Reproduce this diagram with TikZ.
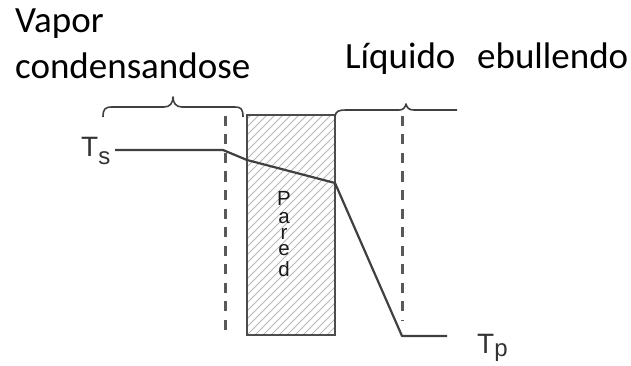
\documentclass[tikz,border=0pt]{standalone}
\usepackage{fontspec}
\setmainfont{Carlito}
\newfontfamily\arialf{Liberation Sans}
\begin{document}
\begin{tikzpicture}[x=1pt,y=-1pt,
  lbl/.style={anchor=base west,inner sep=0pt,font=\fontsize{37}{44}\selectfont,text=black},
  tlbl/.style={anchor=base west,inner sep=0pt,text=black!80},
  parl/.style={anchor=base,inner sep=0pt,font=\arialf\fontsize{20.5}{22}\selectfont,text=black!90},
  prof/.style={draw=black!75,line width=2.2pt,line join=round},
  wall/.style={draw=black!70,line width=2pt},
  hatchline/.style={draw=black!28,line width=0.8pt},
  dashline/.style={draw=black!65,line width=3pt,dash pattern=on 10pt off 8.5pt},
  bracepath/.style={draw=black!75,line width=1.6pt,line join=round}]
\useasboundingbox (0,0) rectangle (631,366);

% labels
\node[lbl] (vapor) at (15,33) {Vapor};
\node[lbl] (cond) at (15,79) {condensandose};
\node[lbl] (liq) at (345,69) {Líquido};
\node[lbl] (ebu) at (477,69) {ebullendo};

% wall hatching
\begin{scope}
  \clip (247,115) rectangle (335,335);
  \foreach \i in {-232,-224,...,96}
    \draw[hatchline] (247+\i,335) -- ++(240,-240);
\end{scope}
\draw[wall] (247,115) rectangle (335,335);

% Pared letters
\foreach \ch/\yy [count=\k] in {P/205,a/223,r/239,e/255,d/276}
  \node[parl] (pared\k) at (284,\yy) {\ch};

% dashed boundaries
\coordinate (dl1) at (225,116);
\coordinate (dl2) at (225,334);
\coordinate (dr1) at (402,116);
\coordinate (dr2) at (402,320);
\draw[dashline] (dl1) -- (dl2);
\draw[dashline] (dr1) -- (dr2);

% braces
\draw[bracepath] (103,117) .. controls (103,109) and (105,107) .. (112,107)
  -- (164,107) .. controls (170,107) and (173,103) .. (173,97)
  .. controls (173,103) and (176,107) .. (182,107)
  -- (235,107) .. controls (241,107) and (243,109) .. (243,117);
\draw[bracepath] (335,116) .. controls (336,111) and (339,110) .. (346,110)
  -- (399,110) .. controls (403,110) and (405,108) .. (406,104)
  .. controls (407,108) and (409,110) .. (414,110) -- (457,110);

% temperature labels
\node[tlbl,font=\arialf\fontsize{28}{30}\selectfont] (Ts) at (81,157)
  {T\raisebox{-8pt}{\fontsize{24}{26}\selectfont s}};
\node[tlbl,font=\arialf\fontsize{28}{30}\selectfont] (Tp) at (477,353)
  {T\raisebox{-3pt}{\fontsize{24}{26}\selectfont p}};

% temperature profile
\coordinate (p0) at (115,150);
\coordinate (p1) at (223,150);
\coordinate (p2) at (247,160);
\coordinate (p3) at (335,183);
\coordinate (p4) at (402,336);
\coordinate (p5) at (447,336);
\draw[prof] (p0) -- (p1) -- (p2) -- (p3) -- (p4) -- (p5);
\end{tikzpicture}
\end{document}
